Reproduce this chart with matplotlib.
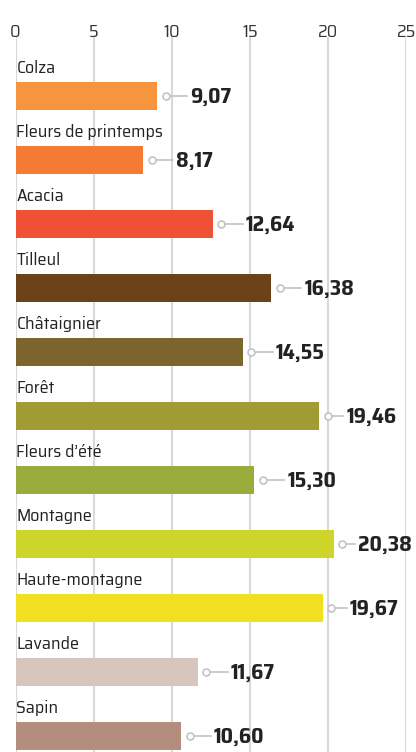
import matplotlib
matplotlib.use("Agg")
import matplotlib.pyplot as plt

# honey type and its value
categories = ["Colza", "Fleurs de printemps", "Acacia", "Tilleul", "Châtaignier", "Forêt",
              "Fleurs d’été", "Montagne", "Haute-montagne", "Lavande", "Sapin"]
values = [9.07, 8.17, 12.64, 16.38, 14.55, 19.46, 15.30, 20.38, 19.67, 11.67, 10.60]
colors = ["#f7943f", "#f47a35", "#ef5134", "#6e4219", "#7c652d", "#a29a35",
          "#9aac3d", "#cdd52a", "#f2df22", "#d8c5bd", "#b38e7f"]
ticks = [0, 5, 10, 15, 20, 25]

plt.rcParams['font.family'] = ['Saira SemiCondensed', 'Saira Condensed', 'Roboto', 'DejaVu Sans']

W, H = 416, 752
fig = plt.figure(figsize=(W / 100, H / 100), dpi=100)
# axes from x=15.5px to 406px, y=37px to bottom
ax = fig.add_axes([15.5 / W, 0, (406 - 15.5) / W, (H - 37) / H])

n = len(categories)
y = list(range(n))
ax.barh(y, values, height=0.453, color=colors, zorder=2)

px = 25 / (406 - 15.5)  # data units per pixel
for i, (cat, v) in enumerate(zip(categories, values)):
    ax.text(0.05, i - 0.44, cat, fontsize=13, color="#222222", va="center", ha="left")
    # labels near the right edge get a shorter leader line
    gap = 24 if v > 20 else (27 if v > 19 else 33)
    ax.plot([v + 10 * px, v + (gap - 3) * px], [i, i], color="#c4c4c4", lw=1.2, zorder=3)
    ax.plot(v + 8.5 * px, i, marker="o", ms=5, mfc="white", mec="#c4c4c4", mew=1.2, zorder=4)
    ax.text(v + gap * px, i + 0.02, f"{v:.2f}".replace(".", ","), fontsize=15.5,
            fontweight="bold", color="#222222", va="center", ha="left")

ax.set_xlim(0, 25)
ax.set_ylim((752 - 96) / 64, (37 - 96) / 64)
ax.set_xticks(ticks)
ax.xaxis.tick_top()
ax.tick_params(axis="x", length=0, pad=-2.5, labelsize=13, labelcolor="#333333")
ax.set_yticks([])
ax.grid(axis="x", color="#d9d9d9", lw=1.5, zorder=0)
for s in ax.spines.values():
    s.set_visible(False)

fig.savefig("out.png", dpi=100)
